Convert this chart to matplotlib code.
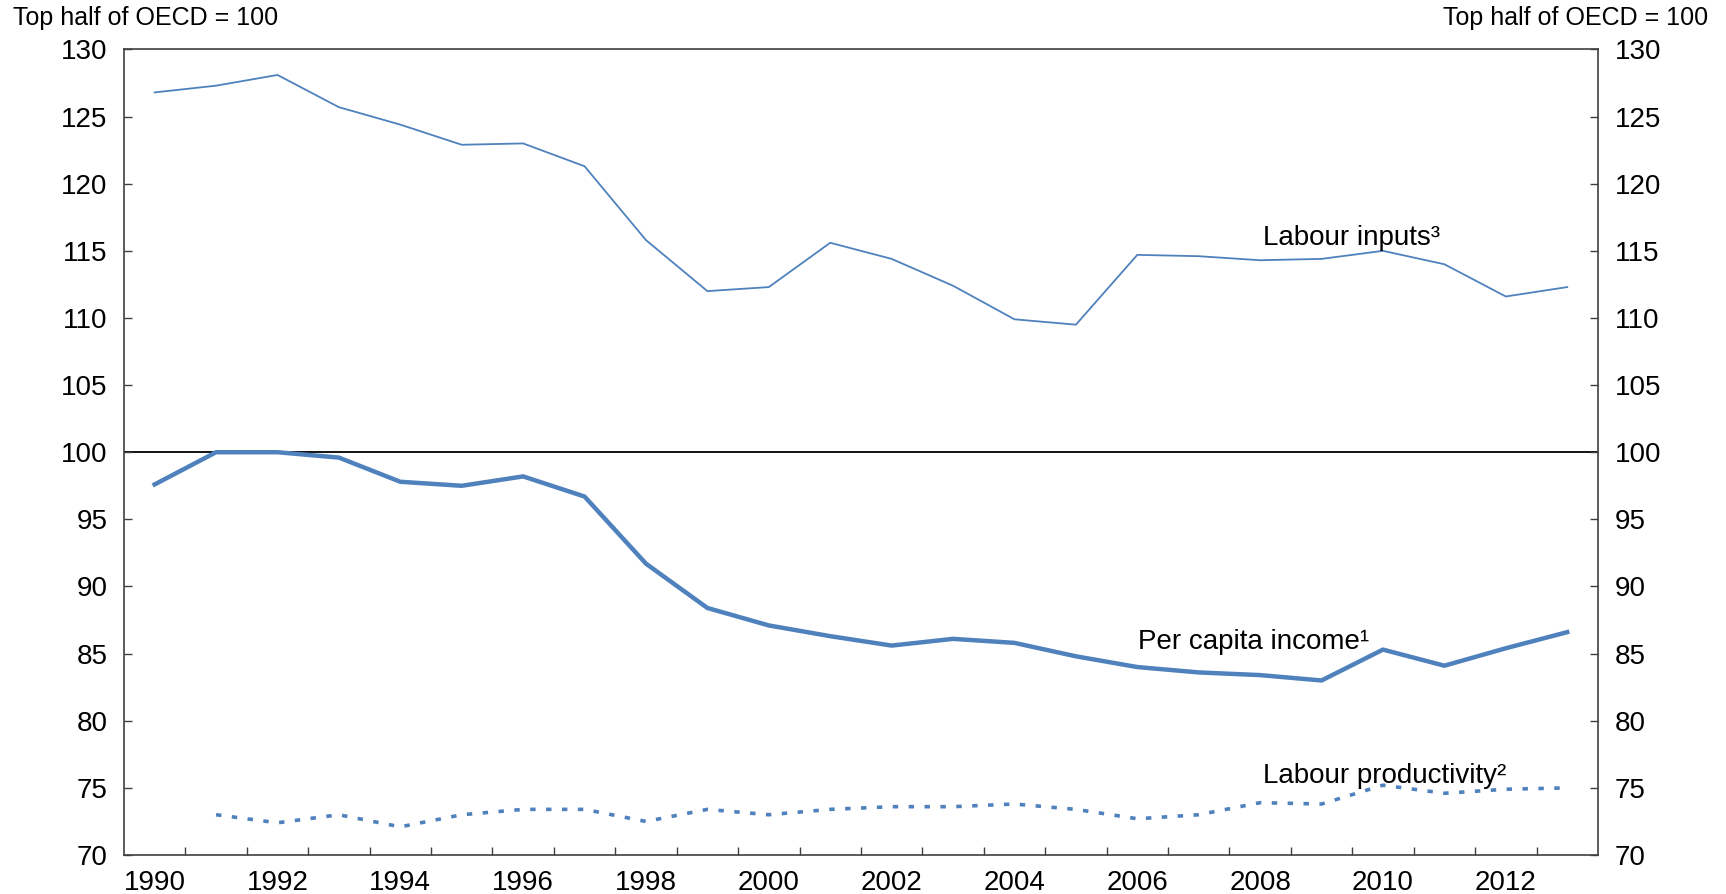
import numpy as np
import matplotlib.pyplot as plt
from matplotlib.ticker import FixedLocator, NullFormatter

plt.rcParams['font.family'] = ['Liberation Sans', 'DejaVu Sans']

years = list(range(1990, 2014))

labour_inputs = [126.8, 127.3, 128.1, 125.7, 124.4, 122.9, 123.0, 121.3, 115.8, 112.0,
                 112.3, 115.6, 114.4, 112.4, 109.9, 109.5, 114.7, 114.6, 114.3, 114.4,
                 115.0, 114.0, 111.6, 112.3]
per_capita_income = [97.6, 100.0, 100.0, 99.6, 97.8, 97.5, 98.2, 96.7, 91.7, 88.4,
                     87.1, 86.3, 85.6, 86.1, 85.8, 84.8, 84.0, 83.6, 83.4, 83.0,
                     85.3, 84.1, 85.4, 86.6]
prod_years = list(range(1991, 2014))
labour_productivity = [73.0, 72.4, 73.0, 72.1, 73.0, 73.4, 73.4, 72.5, 73.4, 73.0,
                       73.4, 73.6, 73.6, 73.8, 73.4, 72.7, 73.0, 73.9, 73.8, 75.2,
                       74.6, 74.9, 75.0]

year_labels = [str(y) for y in range(1990, 2013, 2)]
yticks = list(range(70, 131, 5))

blue = '#4F81BD'

fig = plt.figure(figsize=(17.26, 8.94), dpi=100)
ax = fig.add_axes([0.0718, 0.0436, 0.8540, 0.9011])

ax.axhline(100, color='black', lw=1.3, zorder=1)
ax.plot(years, labour_inputs, color=blue, lw=1.3, zorder=3)
ax.plot(years, per_capita_income, color=blue, lw=3.2, zorder=3)
ax.plot(prod_years, labour_productivity, color=blue, lw=2.6,
        linestyle=(0, (1.5, 2.9)), dash_capstyle='butt', zorder=3)

ax.set_xlim(1989.5, 2013.5)
ax.set_ylim(70, 130)

# year boundaries get the tick marks, labels sit in the middle of the year
ax.xaxis.set_major_locator(FixedLocator(np.arange(1990.5, 2013.5, 1)))
ax.xaxis.set_major_formatter(NullFormatter())
ax.xaxis.set_minor_locator(FixedLocator(list(range(1990, 2013, 2))))
ax.set_xticklabels(year_labels, minor=True)
ax.tick_params(axis='x', which='major', direction='in', length=6, width=1, color='#404040')
ax.tick_params(axis='x', which='minor', length=0, pad=11, labelsize=20)

ax.set_yticks(yticks)
ax.tick_params(axis='y', direction='in', length=6, width=1, color='#404040',
               left=True, right=True, labelleft=True, labelright=True,
               labelsize=20, pad=12)

for s in ax.spines.values():
    s.set_color('#404040')
    s.set_linewidth(1.2)

ax.text(2009.48, 115.45, 'Labour inputs\u00b3', fontsize=20, ha='center', va='baseline')
ax.text(2007.9, 85.35, 'Per capita income\u00b9', fontsize=20, ha='center', va='baseline')
ax.text(2010.02, 75.36, 'Labour productivity\u00b2', fontsize=20, ha='center', va='baseline')

fig.text(13 / 1726, 1 - 25 / 894, 'Top half of OECD = 100', fontsize=18, ha='left', va='baseline')
fig.text(1708 / 1726, 1 - 25 / 894, 'Top half of OECD = 100', fontsize=18, ha='right', va='baseline')

fig.savefig('out.png', dpi=100)
